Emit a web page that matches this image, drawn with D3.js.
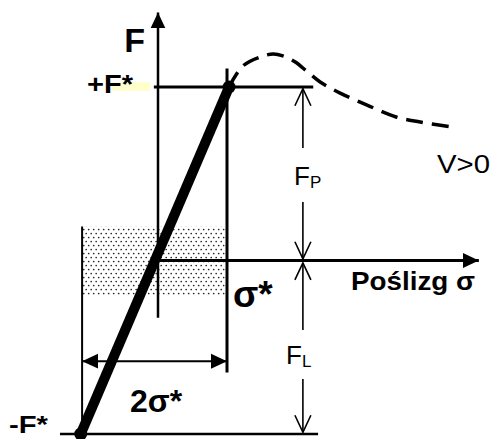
<!DOCTYPE html>
<html>
<head>
<meta charset="utf-8">
<script src="https://cdn.jsdelivr.net/npm/d3@7"></script>
<style>
  body { margin: 0; background: #fff; }
  svg text { font-family: "Liberation Sans", Arial, sans-serif; fill: #000; }
</style>
</head>
<body>
<div id="chart-container"></div>
<script>
// values are in units of sigma* (x) and F* (y)
const stickLine = [[1.03, 1], [-1.12, -1]];
const slipCurve = [
  [1.03, 1.0], [1.23, 1.121], [1.48, 1.173], [1.67, 1.19], [1.81, 1.179],
  [1.99, 1.144], [2.17, 1.086], [2.35, 1.029], [2.64, 0.965], [3.03, 0.896],
  [3.45, 0.827], [3.8, 0.798], [4.26, 0.769],
];
const fAxisSpan = [-0.33, 1.43];
const sigmaAxisSpan = [0, 4.65];
const plusFSpan = [-0.06, 2.25];
const minusFSpan = [-1.42, 2.32];
const sigmaStarSpan = [-0.645, 1.107];
const leftEdge = { sigma: -1.1, span: [-1, 0.196] };
const stickZone = { sigma: [-1.1, 0.97], f: [-0.2, 0.196] };
const doubleSpan = { f: -0.58, sigma: [-1.1, 1] };
const dimX = 2.1;
const dimArrows = [
  [0.648, 0.99],
  [0.337, 0.01],
  [-0.401, -0.014],
  [-0.683, -0.99],
];
const labels = {
  f: "F",
  plusF: "+F*",
  minusF: "-F*",
  sigmaStar: "σ*",
  twoSigma: "2σ*",
  slip: "Poślizg σ",
  speed: "V>0",
  fp: ["F", "P"],
  fl: ["F", "L"],
};

const [w, h] = [493, 439];
const svg = d3
  .select("#chart-container")
  .append("svg")
  .attr("width", w)
  .attr("height", h);

const x = d3.scaleLinear().domain([0, 1]).range([158, 227]);
const y = d3.scaleLinear().domain([-1, 1]).range([434, 87]);

// markers
const defs = svg.append("defs");
defs
  .append("marker")
  .attr("id", "solid")
  .attr("viewBox", "0 -8 16 16")
  .attr("refX", 16)
  .attr("refY", 0)
  .attr("markerUnits", "userSpaceOnUse")
  .attr("markerWidth", 16)
  .attr("markerHeight", 16)
  .attr("orient", "auto-start-reverse")
  .append("path")
  .attr("d", "M0,-7.5L16,0L0,7.5Z")
  .attr("fill", "#000");
defs
  .append("marker")
  .attr("id", "open")
  .attr("viewBox", "0 -10 20 20")
  .attr("refX", 18)
  .attr("refY", 0)
  .attr("markerUnits", "userSpaceOnUse")
  .attr("markerWidth", 20)
  .attr("markerHeight", 20)
  .attr("orient", "auto")
  .append("path")
  .attr("d", "M1,-8L18,0L1,8")
  .attr("fill", "none")
  .attr("stroke", "#000")
  .attr("stroke-width", 1.6);
const dots = defs
  .append("pattern")
  .attr("id", "dots")
  .attr("patternUnits", "userSpaceOnUse")
  .attr("width", 5)
  .attr("height", 8);
[[1.2, 1.5], [3.7, 5.5]].forEach(([cx, cy]) =>
  dots.append("circle").attr("cx", cx).attr("cy", cy).attr("r", 0.85).attr("fill", "#222")
);

// dotted stick zone
svg
  .append("rect")
  .attr("x", x(stickZone.sigma[0]))
  .attr("y", y(stickZone.f[1]))
  .attr("width", x(stickZone.sigma[1]) - x(stickZone.sigma[0]))
  .attr("height", y(stickZone.f[0]) - y(stickZone.f[1]))
  .attr("fill", "url(#dots)");

function seg(x1, y1, x2, y2, width) {
  return svg
    .append("line")
    .attr("x1", x1)
    .attr("y1", y1)
    .attr("x2", x2)
    .attr("y2", y2)
    .attr("stroke", "#000")
    .attr("stroke-width", width);
}

// axes
seg(x(0), y(fAxisSpan[0]), x(0), y(fAxisSpan[1]), 2.5).attr("marker-end", "url(#solid)");
seg(x(sigmaAxisSpan[0]), y(0), x(sigmaAxisSpan[1]), y(0), 3).attr("marker-end", "url(#solid)");

// guide lines
seg(x(plusFSpan[0]), y(1), x(plusFSpan[1]), y(1), 3);
seg(x(minusFSpan[0]), y(-1), x(minusFSpan[1]), y(-1), 2.5);
seg(x(1), y(sigmaStarSpan[0]), x(1), y(sigmaStarSpan[1]), 3);
seg(x(leftEdge.sigma), y(leftEdge.span[0]), x(leftEdge.sigma), y(leftEdge.span[1]), 2);

// 2 sigma* span
seg(x(doubleSpan.sigma[0]), y(doubleSpan.f), x(doubleSpan.sigma[1]), y(doubleSpan.f), 2)
  .attr("marker-start", "url(#solid)")
  .attr("marker-end", "url(#solid)");

// force dimension arrows
dimArrows.forEach(([a, b]) => {
  seg(x(dimX), y(a), x(dimX), y(b), 1.6).attr("marker-end", "url(#open)");
});

// sliding curve
svg
  .append("path")
  .datum(slipCurve)
  .attr("d", d3.line().x((d) => x(d[0])).y((d) => y(d[1])).curve(d3.curveCatmullRom))
  .attr("fill", "none")
  .attr("stroke", "#000")
  .attr("stroke-width", 3.5)
  .attr("stroke-dasharray", "17 9");

// thick stick line
svg
  .append("line")
  .attr("x1", x(stickLine[0][0]))
  .attr("y1", y(stickLine[0][1]))
  .attr("x2", x(stickLine[1][0]))
  .attr("y2", y(stickLine[1][1]))
  .attr("stroke", "#000")
  .attr("stroke-width", 10);
svg
  .selectAll("circle.end")
  .data(stickLine)
  .enter()
  .append("circle")
  .attr("class", "end")
  .attr("cx", (d) => x(d[0]))
  .attr("cy", (d) => y(d[1]))
  .attr("r", 6.5)
  .attr("fill", "#000");

// labels
function label(text, tx, ty, size, weight, anchor) {
  return svg
    .append("text")
    .attr("x", tx)
    .attr("y", ty)
    .attr("font-size", size)
    .attr("font-weight", weight)
    .attr("text-anchor", anchor || "start")
    .text(text);
}

svg
  .append("rect")
  .attr("x", 112)
  .attr("y", y(1) - 5)
  .attr("width", 38)
  .attr("height", 9)
  .attr("fill", "#ffffcc");

label(labels.f, x(0) - 13, 52, 34, "bold", "end");
label(labels.plusF, 87, y(1) + 6, 25, "bold")
  .attr("textLength", 46)
  .attr("lengthAdjust", "spacingAndGlyphs");
label(labels.minusF, 9, y(-1) - 1, 23, "bold")
  .attr("textLength", 39)
  .attr("lengthAdjust", "spacingAndGlyphs");
label(labels.sigmaStar, x(1) + 6, 307, 37, "bold");
label(labels.twoSigma, 130, 412, 32, "bold");
label(labels.slip, 351, 290, 25, "bold")
  .attr("textLength", 124)
  .attr("lengthAdjust", "spacingAndGlyphs");
label(labels.speed, 437, 173, 26, "normal")
  .attr("textLength", 53)
  .attr("lengthAdjust", "spacingAndGlyphs");

[[labels.fp, (y(dimArrows[0][0]) + y(dimArrows[1][0])) / 2 + 10, 294],
 [labels.fl, (y(dimArrows[2][0]) + y(dimArrows[3][0])) / 2 + 9, 286]].forEach(([t, ty, tx]) => {
  const txt = label("", tx, ty, 26, "normal");
  txt.append("tspan").text(t[0]);
  txt.append("tspan").attr("font-size", 17).attr("dy", 3).text(t[1]);
});
</script>
</body>
</html>
